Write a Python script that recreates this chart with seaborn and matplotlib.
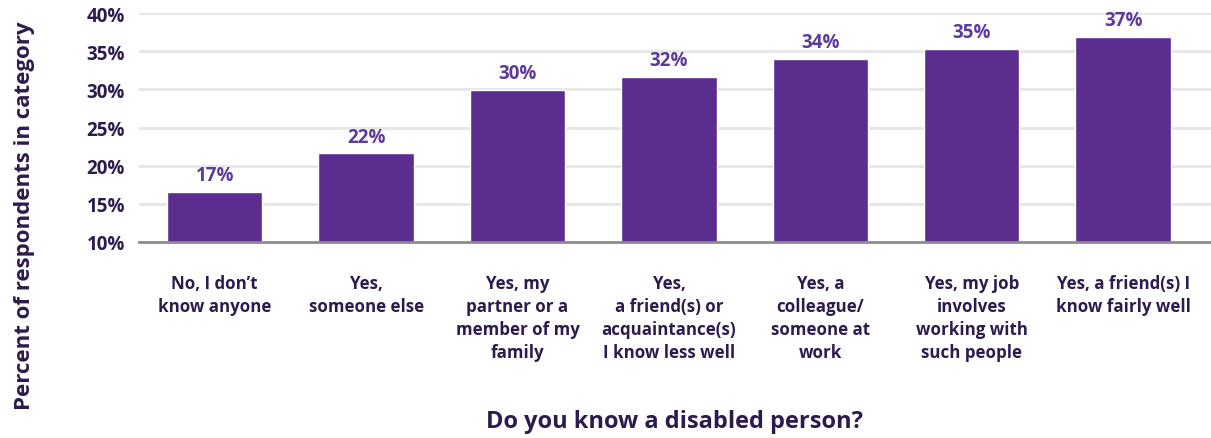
import matplotlib
matplotlib.use("Agg")
import matplotlib.pyplot as plt
import seaborn as sns
import pandas as pd

categories = [
    "No, I don\u2019t\nknow anyone",
    "Yes,\nsomeone else",
    "Yes, my\npartner or a\nmember of my\nfamily",
    "Yes,\na friend(s) or\nacquaintance(s)\nI know less well",
    "Yes, a\ncolleague/\nsomeone at\nwork",
    "Yes, my job\ninvolves\nworking with\nsuch people",
    "Yes, a friend(s) I\nknow fairly well",
]
percent = [16.6, 21.6, 29.95, 31.6, 34.0, 35.3, 36.9]
y_ticks = [10, 15, 20, 25, 30, 35, 40]

BAR = "#5b2d8e"
LABEL = "#5e3a9a"
TEXT = "#2d1b4e"

sns.set_theme(style="white")
plt.rcParams["font.family"] = ["Open Sans", "DejaVu Sans"]

df = pd.DataFrame({"category": categories, "percent": percent})

fig = plt.figure(figsize=(12.11, 4.39), dpi=100)
ax = fig.add_axes([139 / 1211, 1 - 243 / 439, 1 - 139 / 1211, (243 - 14) / 439])

sns.barplot(data=df, x="category", y="percent", color=BAR, width=0.63,
            saturation=1, ax=ax, zorder=3)

ax.set_ylim(10, 40)
ax.set_xlim(-0.5, 6.58)
ax.set_yticks(y_ticks)
ax.set_yticklabels([f"{v}%" for v in y_ticks])
ax.yaxis.grid(True, color="#e6e6e6", linewidth=2, zorder=0)
ax.set_axisbelow(True)

for side in ["top", "right", "left"]:
    ax.spines[side].set_visible(False)
ax.spines["bottom"].set_color("#8c8c8c")
ax.spines["bottom"].set_linewidth(2)
ax.spines["bottom"].set_zorder(4)

ax.tick_params(axis="y", length=0, pad=10, labelsize=13.5, labelcolor=TEXT)
ax.tick_params(axis="x", length=0, pad=23, labelsize=12.2, labelcolor=TEXT)
for t in ax.get_yticklabels():
    t.set_fontweight("bold")
for t in ax.get_xticklabels():
    t.set_fontweight("bold")
    t.set_linespacing(1.35)
    t.set_verticalalignment("top")

ax.bar_label(ax.containers[0], labels=[f"{round(v)}%" for v in percent],
             padding=5, color=LABEL, fontsize=13.5, fontweight="bold")

ax.set_xlabel("Do you know a disabled person?", fontsize=17, fontweight="bold",
              color=TEXT)
ax.xaxis.set_label_coords(0.5, -0.73)
ax.set_ylabel("Percent of respondents in category", fontsize=16,
              fontweight="bold", color=TEXT)
ax.yaxis.set_label_coords(-0.107, 0.12)
ax.yaxis.label.set_verticalalignment("center")

fig.savefig("out.png", dpi=100)
